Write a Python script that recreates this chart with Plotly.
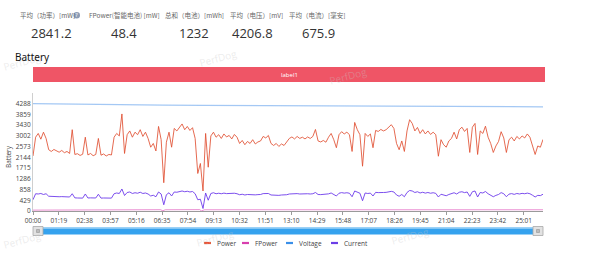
import plotly.graph_objects as go

# ---------------- data ----------------
stat_labels = ["平均（功率）[mW]", "FPower(智能电池) [mW]", "总和（电池）[mWh]", "平均（电压）[mV]", "平均（电流）[毫安]"]
stat_values = ["2841.2", "48.4", "1232", "4206.8", "675.9"]

tick_seconds = [79 * k for k in range(20)]
tick_labels = ["00:00", "01:19", "02:38", "03:57", "05:16", "06:35", "07:54", "09:13", "10:32", "11:51",
               "13:10", "14:29", "15:48", "17:07", "18:26", "19:45", "21:04", "22:23", "23:42", "25:01"]
y_ticks = [0, 429, 858, 1286, 1715, 2144, 2573, 3002, 3430, 3859, 4288]

sample_step_s = 8
power = [2200, 2950, 3100, 2870, 3150, 2900, 2450, 2380, 2460, 2400,
         2350, 2420, 2330, 2380, 2300, 3250, 2260, 2290, 2220, 2270,
         2950, 2240, 2300, 2210, 2260, 2900, 2230, 2280, 2200, 2260,
         2240, 2950, 3100, 3000, 3880, 2300, 3050, 3200, 2950, 3150,
         3050, 3250, 2980, 3150, 2900, 2550, 2700, 2400, 3380, 2850,
         1130, 2750, 3150, 2550, 3300, 3200, 3350, 3480, 3250, 3380,
         3220, 3330, 2900, 1500, 1900, 800, 3100, 1750, 3000, 3150,
         2950, 3050, 2900, 3080, 2960, 3020, 2880, 3060, 2950, 2700,
         2820, 2650, 2780, 2700, 2850, 2680, 2760, 2800, 2980, 2920,
         3020, 2700, 2620, 2700, 2580, 2680, 2620, 2750, 2900, 2960,
         2880, 2980, 2900, 2950, 2880, 2960, 2900, 2980, 3260, 2800,
         2760, 2820, 2750, 2950, 3100, 2850, 2530, 3050, 3170, 3080,
         3150, 3050, 2380, 3540, 3250, 3050, 1790, 3100, 2980, 3080,
         2530, 3220, 3180, 3260, 3200, 3250, 3340, 3450, 3300, 2700,
         2450, 2800, 2380, 3200, 3650, 3500, 3200, 3340, 3100, 3250,
         3080, 3200, 3060, 3150, 3050, 2190, 2850, 2650, 2550, 2800,
         2900, 3150, 2880, 3250, 3350, 3180, 3300, 2340, 3350, 3500,
         2260, 3200, 3100, 3390, 2950, 2700, 2340, 2600, 2780, 3170,
         2920, 2340, 2850, 2950, 2800, 2980, 2880, 3000, 2920, 3080,
         2950, 2620, 2260, 2600, 2550, 2860]
current = [450, 690, 680, 700, 660, 690, 590, 580, 585, 575,
           570, 575, 565, 570, 560, 690, 525, 520, 530, 515,
           680, 520, 525, 515, 520, 670, 515, 520, 510, 520,
           515, 690, 720, 700, 880, 620, 740, 760, 700, 730,
           710, 750, 700, 720, 680, 600, 630, 570, 760, 680,
           250, 650, 730, 600, 760, 750, 780, 800, 770, 790,
           760, 780, 690, 450, 470, 100, 720, 430, 700, 730,
           690, 710, 690, 715, 695, 705, 685, 710, 690, 650,
           670, 640, 660, 650, 670, 645, 655, 660, 695, 685,
           700, 640, 630, 645, 625, 640, 630, 650, 680, 690,
           675, 695, 680, 690, 675, 690, 680, 690, 740, 660,
           655, 665, 650, 685, 720, 670, 600, 710, 735, 715,
           730, 710, 570, 800, 750, 710, 410, 720, 700, 715,
           600, 745, 735, 750, 740, 745, 765, 785, 760, 640,
           590, 660, 570, 740, 820, 800, 740, 770, 720, 750,
           715, 740, 710, 730, 705, 560, 670, 630, 610, 660,
           680, 730, 680, 750, 770, 735, 760, 585, 770, 800,
           560, 740, 720, 780, 690, 640, 570, 625, 660, 735,
           690, 570, 675, 695, 665, 700, 680, 705, 690, 715,
           690, 630, 560, 625, 615, 670]
sample_times = [i * sample_step_s for i in range(len(power))]

fpower_times = [0, 120, 240, 390, 397, 405, 510, 515, 525, 700, 900, 1100, 1300, 1560]
fpower = [35, 45, 50, 52, 10, 50, 55, 5, 50, 48, 50, 47, 49, 50]

voltage_times = [0, 100, 240, 400, 520, 700, 900, 1100, 1300, 1450, 1560]
voltage = [4290, 4270, 4250, 4235, 4225, 4210, 4200, 4190, 4180, 4175, 4165]

series_names = ["Power", "FPower", "Voltage", "Current"]
series_colors = ["#e8553a", "#d83fae", "#3a8fe8", "#6b3ee6"]

# ---------------- layout geometry (pixels) ----------------
W, H = 600, 255
L, R, T, B = 33, 543, 93, 211
Y_MAX = 4717


def px(x):
    return (x - L) / (R - L)


def py(y):
    return (B - y) / (B - T)


fig = go.Figure()
fig.add_trace(go.Scatter(x=voltage_times, y=voltage, mode="lines", name="Voltage",
                         line=dict(color="rgba(90,155,235,0.55)", width=1.3)))
fig.add_trace(go.Scatter(x=sample_times, y=power, mode="lines", name="Power",
                         line=dict(color="rgba(225,80,50,0.85)", width=1)))
fig.add_trace(go.Scatter(x=fpower_times, y=fpower, mode="lines", name="FPower",
                         line=dict(color="rgba(220,70,180,0.6)", width=1)))
fig.add_trace(go.Scatter(x=sample_times, y=current, mode="lines", name="Current",
                         line=dict(color="rgba(110,60,235,0.9)", width=1)))

annotations = []
shapes = []

# header stats
label_cx = [47, 124, 194, 256, 317]
value_cx = [51, 124, 194, 252, 318]
for lab, val, lx, vx in zip(stat_labels, stat_values, label_cx, value_cx):
    annotations.append(dict(x=px(lx), y=py(15), xref="paper", yref="paper", text=lab, showarrow=False,
                            font=dict(family="Noto Sans CJK SC", size=6.5, color="#666"),
                            xanchor="center", yanchor="middle"))
    annotations.append(dict(x=px(vx), y=py(33), xref="paper", yref="paper", text=val, showarrow=False,
                            font=dict(family="Open Sans", size=13, color="#333"),
                            xanchor="center", yanchor="middle"))
# question icon
shapes.append(dict(type="circle", xref="paper", yref="paper", x0=px(73.5), x1=px(80), y0=py(18.5), y1=py(12),
                   fillcolor="#8b9bb4", line=dict(width=0)))
annotations.append(dict(x=px(76.8), y=py(15.3), xref="paper", yref="paper", text="?", showarrow=False,
                        font=dict(family="DejaVu Sans", size=5.5, color="white"), xanchor="center", yanchor="middle"))

# watermarks
for wx, wy in [(22, 62), (218, 58), (348, 76), (22, 240), (215, 238), (410, 236)]:
    annotations.append(dict(x=px(wx), y=py(wy), xref="paper", yref="paper", text="PerfDog", showarrow=False,
                            textangle=-15, font=dict(family="Open Sans", size=10, color="rgba(200,200,200,0.35)"),
                            xanchor="center", yanchor="middle"))

# Battery title
annotations.append(dict(x=px(13), y=py(57), xref="paper", yref="paper", text="Battery", showarrow=False,
                        font=dict(family="Noto Sans", size=10, color="#111"), xanchor="left", yanchor="middle"))

# label banner
shapes.append(dict(type="rect", xref="paper", yref="paper", x0=px(33), x1=px(545), y0=py(82), y1=py(67),
                   fillcolor="#ef5566", line=dict(width=0), layer="below"))
annotations.append(dict(x=px(289), y=py(74.5), xref="paper", yref="paper", text="label1", showarrow=False,
                        font=dict(family="Open Sans", size=6, color="white"), xanchor="center", yanchor="middle"))

# y axis title
annotations.append(dict(x=px(8), y=py(157), xref="paper", yref="paper", text="Battery", showarrow=False,
                        textangle=-90, font=dict(family="Open Sans", size=6.5, color="#444"),
                        xanchor="center", yanchor="middle"))

# slider
shapes.append(dict(type="rect", xref="paper", yref="paper", x0=px(38), x1=px(538), y0=py(234.5), y1=py(227.5),
                   fillcolor="#35a2ee", line=dict(width=0)))
shapes.append(dict(type="rect", xref="paper", yref="paper", x0=px(38), x1=px(538), y0=py(228.8), y1=py(227.5),
                   fillcolor="#9fd2f6", line=dict(width=0)))
for hx in (33, 533):
    shapes.append(dict(type="rect", xref="paper", yref="paper", x0=px(hx), x1=px(hx + 10), y0=py(235.5), y1=py(226.5),
                       fillcolor="#e2e2e2", line=dict(color="#a8a8a8", width=0.8)))
    shapes.append(dict(type="rect", xref="paper", yref="paper", x0=px(hx + 3.5), x1=px(hx + 6.5), y0=py(232.5), y1=py(229.5),
                       fillcolor="#bcbcbc", line=dict(color="#888", width=0.5)))

# manual legend
legend_icon_x = [204, 242, 286, 331]
for name, col, ix in zip(series_names, series_colors, legend_icon_x):
    shapes.append(dict(type="line", xref="paper", yref="paper", x0=px(ix), x1=px(ix + 7), y0=py(243), y1=py(243),
                       line=dict(color=col, width=2.2)))
    annotations.append(dict(x=px(ix + 11), y=py(243), xref="paper", yref="paper", text=name, showarrow=False,
                            font=dict(family="Open Sans", size=6.5, color="#444"), xanchor="left", yanchor="middle"))

fig.update_layout(
    width=W, height=H,
    margin=dict(l=L, r=W - R, t=T, b=H - B),
    paper_bgcolor="white", plot_bgcolor="white",
    showlegend=False,
    annotations=annotations,
    shapes=shapes,
    xaxis=dict(range=[0, 1560], tickvals=tick_seconds, ticktext=tick_labels, showgrid=False, zeroline=False,
               showline=True, linecolor="#9a9a9a", linewidth=1, ticks="outside", ticklen=3, tickcolor="#9a9a9a",
               tickfont=dict(family="Open Sans", size=6.5, color="#444"), fixedrange=True),
    yaxis=dict(range=[0, Y_MAX], tickvals=y_ticks, ticktext=[str(v) for v in y_ticks], showgrid=False,
               zeroline=False, showline=True, linecolor="#cfcfcf", linewidth=1, ticks="",
               tickfont=dict(family="Open Sans", size=6.5, color="#444"), fixedrange=True),
)

fig.write_html("out.html", config={"displayModeBar": False})
